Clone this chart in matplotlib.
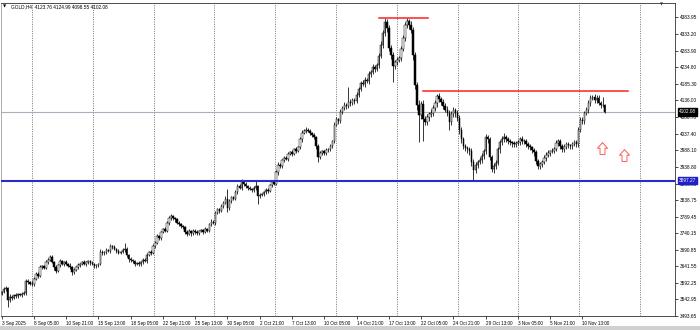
import numpy as np
import matplotlib
matplotlib.use('Agg')
import matplotlib.pyplot as plt
from matplotlib.path import Path
import matplotlib.transforms as mtransforms

# GOLD H4 candles, 3 Sep 2025 .. 12 Nov 2025
first_open = 3560
closes = [
  3565, 3574, 3578, 3540, 3551, 3548, 3555, 3553, 3558, 3556,
  3560, 3562, 3598, 3595, 3590, 3589, 3605, 3619, 3614, 3640,
  3642, 3638, 3654, 3662, 3669, 3655, 3639, 3628, 3645, 3657,
  3650, 3654, 3648, 3644, 3639, 3625, 3632, 3639, 3645, 3650,
  3654, 3650, 3654, 3657, 3652, 3648, 3642, 3645, 3648, 3684,
  3680, 3684, 3690, 3686, 3702, 3698, 3693, 3688, 3682, 3684,
  3690, 3693, 3675, 3663, 3660, 3657, 3648, 3652, 3648, 3655,
  3662, 3658, 3675, 3685, 3680, 3702, 3712, 3731, 3726, 3745,
  3752, 3748, 3772, 3785, 3791, 3786, 3782, 3772, 3767, 3762,
  3758, 3745, 3737, 3746, 3740, 3748, 3743, 3740, 3746, 3749,
  3744, 3752, 3748, 3767, 3775, 3771, 3800, 3812, 3808, 3821,
  3830, 3842, 3815, 3835, 3847, 3843, 3862, 3880, 3876, 3895,
  3887, 3880, 3875, 3871, 3868, 3875, 3880, 3850, 3855, 3858,
  3862, 3870, 3866, 3885, 3892, 3888, 3922, 3945, 3940, 3958,
  3966, 3962, 3976, 3981, 3977, 3990, 3986, 3996, 4020, 4040,
  4045, 4049, 4045, 4040, 4032, 4026, 4000, 3969, 3978, 3984,
  3980, 3988, 3990, 4000, 4014, 4064, 4080, 4075, 4103, 4115,
  4124, 4120, 4132, 4128, 4138, 4134, 4153, 4170, 4189, 4185,
  4198, 4193, 4215, 4222, 4236, 4230, 4242, 4270, 4302, 4337,
  4370, 4352, 4293, 4272, 4240, 4251, 4258, 4263, 4290, 4322,
  4361, 4372, 4360, 4346, 4272, 4183, 4124, 4094, 4125, 4080,
  4073, 4088, 4095, 4100, 4115, 4129, 4150, 4140, 4132, 4120,
  4109, 4100, 4073, 4095, 4109, 4098, 4085, 4049, 4020, 3999,
  3993, 3990, 3984, 3954, 3930, 3945, 3954, 3960, 3972, 3984,
  4026, 4020, 3969, 3931, 3940, 3951, 3990, 4011, 4020, 4026,
  4020, 4014, 4011, 4008, 4005, 4010, 4011, 4020, 4016, 4014,
  4005, 3999, 3996, 3988, 3981, 3955, 3940, 3946, 3954, 3965,
  3975, 3980, 3984, 3986, 3992, 4008, 4014, 3999, 3990, 3998,
  4005, 4002, 3999, 4006, 4011, 4005, 4049, 4079, 4074, 4100,
  4109, 4129, 4144, 4147, 4138, 4144, 4129, 4124, 4123.76, 4102.08,
]
upper_wick = [
  4, 6, 5, 3, 8, 5, 4, 6, 3, 5,
  4, 7, 6, 5, 3, 8, 4, 6, 5, 7,
  3, 5, 6, 4, 6, 5, 3, 8, 4, 6,
  5, 3, 6, 4, 7, 3, 5, 4, 6, 3,
  4, 6, 3, 5, 4, 7, 3, 5, 4, 8,
  6, 4, 5, 3, 7, 4, 6, 3, 5, 4,
  6, 18, 5, 4, 6, 3, 5, 4, 6, 3,
  5, 4, 6, 3, 5, 7, 4, 6, 5, 3,
  4, 6, 5, 7, 8, 4, 3, 5, 6, 4,
  3, 5, 4, 6, 3, 5, 4, 7, 3, 5,
  4, 6, 3, 5, 7, 4, 6, 5, 3, 6,
  5, 8, 29, 6, 4, 5, 7, 6, 8, 6,
  4, 5, 3, 6, 4, 5, 15, 4, 6, 3,
  5, 4, 6, 3, 5, 7, 6, 8, 5, 4,
  6, 4, 5, 3, 6, 4, 7, 5, 8, 9,
  6, 7, 4, 5, 3, 6, 4, 5, 7, 4,
  5, 6, 4, 7, 5, 8, 6, 5, 7, 6,
  8, 6, 45, 7, 5, 6, 8, 7, 6, 9,
  7, 6, 8, 5, 9, 7, 6, 8, 10, 9,
  11, 8, 10, 7, 9, 6, 8, 7, 9, 8,
  10, 9, 8, 12, 9, 10, 8, 12, 10, 13,
  9, 8, 7, 10, 8, 9, 6, 8, 7, 9,
  8, 10, 7, 9, 8, 6, 9, 7, 8, 6,
  7, 8, 6, 9, 7, 8, 6, 9, 7, 8,
  10, 7, 8, 6, 9, 7, 8, 6, 10, 14,
  7, 6, 8, 5, 7, 6, 8, 7, 9, 6,
  7, 6, 8, 5, 7, 6, 8, 7, 6, 8,
  6, 7, 5, 8, 6, 9, 7, 6, 8, 7,
  6, 8, 5, 7, 6, 8, 9, 7, 8, 6,
  8, 7, 9, 6, 8, 7, 9, 6, 21, 1.23,
]
lower_wick = [
  5, 4, 6, 19, 5, 7, 4, 6, 5, 3,
  6, 4, 5, 7, 3, 6, 5, 4, 6, 3,
  5, 4, 3, 6, 5, 4, 7, 5, 3, 6,
  4, 6, 3, 5, 4, 8, 5, 3, 6, 4,
  5, 3, 6, 4, 5, 3, 6, 4, 5, 3,
  6, 4, 5, 3, 6, 5, 4, 6, 3, 5,
  4, 6, 5, 7, 4, 6, 5, 3, 6, 4,
  5, 3, 6, 4, 5, 3, 6, 4, 5, 6,
  4, 5, 3, 6, 4, 5, 7, 4, 6, 5,
  4, 6, 5, 3, 7, 4, 5, 6, 4, 3,
  6, 4, 5, 3, 6, 4, 5, 3, 6, 4,
  5, 3, 12, 6, 4, 5, 3, 6, 4, 7,
  5, 4, 6, 3, 5, 4, 6, 23, 5, 4,
  6, 4, 5, 3, 6, 4, 5, 7, 4, 6,
  5, 4, 6, 3, 5, 4, 6, 5, 4, 7,
  5, 6, 4, 7, 5, 6, 8, 15, 6, 5,
  7, 5, 6, 4, 7, 6, 5, 8, 6, 7,
  6, 8, 7, 9, 6, 7, 5, 8, 6, 7,
  8, 6, 7, 9, 6, 8, 7, 9, 8, 10,
  9, 12, 10, 11, 48, 9, 10, 8, 9, 7,
  8, 10, 12, 9, 14, 12, 15, 83, 12, 65,
  10, 9, 12, 8, 10, 9, 11, 8, 10, 9,
  8, 10, 25, 9, 8, 10, 9, 12, 10, 9,
  8, 10, 9, 12, 35, 10, 9, 8, 10, 9,
  8, 10, 9, 8, 10, 9, 8, 10, 9, 8,
  9, 7, 8, 10, 7, 9, 8, 7, 9, 8,
  7, 9, 8, 10, 9, 8, 7, 9, 8, 7,
  8, 7, 9, 6, 8, 7, 9, 8, 7, 9,
  8, 7, 9, 8, 7, 9, 8, 7, 9, 8,
  7, 9, 8, 7, 9, 8, 7, 9, 8, 3.53,
]

time_labels = ['3 Sep 2025', '8 Sep 05:00', '10 Sep 21:00', '15 Sep 13:00', '18 Sep 05:00',
               '22 Sep 21:00', '25 Sep 13:00', '30 Sep 05:00', '2 Oct 21:00', '7 Oct 13:00',
               '10 Oct 05:00', '14 Oct 21:00', '17 Oct 13:00', '22 Oct 05:00', '24 Oct 21:00',
               '29 Oct 13:00', '3 Nov 05:00', '5 Nov 21:00', '10 Nov 13:00']
bars_per_label = 16
price_ticks = [4383.95, 4333.20, 4283.90, 4234.60, 4185.30, 4136.00, 4086.70, 4037.40,
               3988.10, 3938.80, 3888.05, 3838.75, 3789.45, 3740.15, 3690.85, 3641.55,
               3592.25, 3542.95, 3493.65]

support_level = 3897.27
last_price = 4102.08
header = 'GOLD,H4  4123.76 4124.99 4098.55 4102.08'
# red trend lines: (start bar, end bar, price)
red_lines = [(187.2, 211.3, 4381.0), (209.0, 310.5, 4165.5)]
# hollow up arrows: (bar, price)
up_arrows = [(297.7, 3994.0), (308.4, 3975.0)]

W, H = 700, 330
FONT = 'Liberation Sans'

closes = np.array(closes, dtype=float)
opens = np.r_[first_open, closes[:-1]]
highs = np.maximum(opens, closes) + np.array(upper_wick)
lows = np.minimum(opens, closes) - np.array(lower_wick)
idx = np.arange(len(closes))

fig = plt.figure(figsize=(W / 100, H / 100), dpi=100)
fig.patch.set_facecolor('white')
ax = fig.add_axes([0.5 / W, 14 / H, 674.5 / W, 313 / H])

# dotted grid
for gx in np.arange(15.1, 334, 30.15):
    ax.axvline(gx, color='#606060', lw=0.6, ls=(0, (1.2, 1.6)), zorder=0)

# candles
ax.vlines(idx, lows, highs, color='black', lw=0.55, zorder=2)
bull = closes >= opens
ax.bar(idx[bull], (closes - opens)[bull], bottom=opens[bull], width=0.75,
       facecolor='white', edgecolor='black', linewidth=0.35, zorder=3)
ax.bar(idx[~bull], (opens - closes)[~bull], bottom=closes[~bull], width=0.75,
       facecolor='black', edgecolor='black', linewidth=0.35, zorder=3)

# levels
ax.axhline(last_price, color='#a8b0bc', lw=0.8, zorder=1)
ax.axhline(support_level, color='#2b2bc8', lw=1.5, zorder=4)
for x0, x1, p in red_lines:
    ax.plot([x0, x1], [p, p], color='#ff2020', lw=1.1, zorder=4)

arrow = Path([(0, 1), (0.85, 0.05), (0.42, 0.05), (0.42, -1), (-0.42, -1),
              (-0.42, 0.05), (-0.85, 0.05), (0, 1)])
for bx, p in up_arrows:
    ax.plot(bx, p, marker=arrow, markersize=8.5, markerfacecolor='white',
            markeredgecolor='#ff4040', markeredgewidth=0.6, zorder=5)

ax.set_xlim(-0.5, -0.5 + 674.5 / 2.017)
ax.set_ylim(3493.6, 4426.6)

# price axis on the right
ax.yaxis.tick_right()
ax.set_yticks(price_ticks)
ax.set_yticklabels(['{:.2f}'.format(v) for v in price_ticks])
ax.tick_params(axis='y', length=2, width=0.5, pad=1.2, labelsize=3.4, colors='black')
for lab in ax.get_yticklabels():
    lab.set_fontfamily(FONT)

# time axis
ax.set_xticks(np.arange(len(time_labels)) * bars_per_label)
ax.set_xticklabels(time_labels)
ax.tick_params(axis='x', length=2, width=0.5, pad=1.5, labelsize=3.3, colors='black')
for lab in ax.get_xticklabels():
    lab.set_horizontalalignment('left')
    lab.set_fontfamily(FONT)

for s in ax.spines.values():
    s.set_color('#303030')
    s.set_linewidth(0.6)
ax.spines['left'].set_color('#a0a0a0')

# price boxes on the axis
trans = mtransforms.blended_transform_factory(ax.transAxes, ax.transData)
ax.text(1.006, last_price, '{:.2f}'.format(last_price), transform=trans, fontsize=3.4,
        family=FONT, color='white', va='center', ha='left', zorder=10,
        bbox=dict(facecolor='black', edgecolor='black', boxstyle='square,pad=0.25'))
ax.text(1.006, support_level, '{:.2f}'.format(support_level), transform=trans, fontsize=3.4,
        family=FONT, color='white', va='center', ha='left', zorder=10,
        bbox=dict(facecolor='#2020c8', edgecolor='#2020c8', boxstyle='square,pad=0.25'))

# header
fig.text(3 / W, 1 - 7 / H, '\u25BC', fontsize=3, color='black', va='center')
fig.text(11 / W, 1 - 7 / H, header, fontsize=3.4, family=FONT, color='black', va='center')
fig.text(660 / W, 1 - 4 / H, '\u25BC', fontsize=2.8, color='#303030', va='center')

# bottom tab strip
fig.add_artist(plt.Rectangle((0, 0), 1, 4 / H, transform=fig.transFigure,
                             facecolor='#d0d0d0', edgecolor='none'))

fig.savefig('out.png', dpi=100, facecolor='white')
